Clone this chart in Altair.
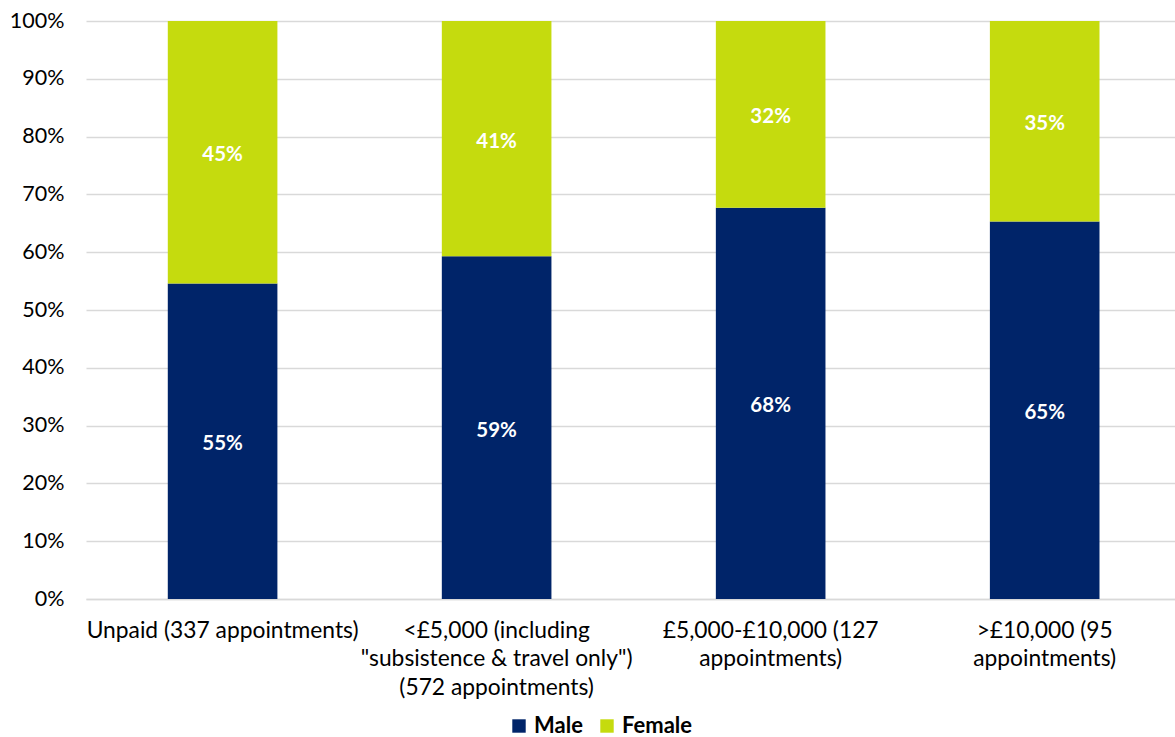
import altair as alt
import pandas as pd

categories = [
    "Unpaid (337 appointments)",
    "<£5,000 (including|\"subsistence & travel only\")|(572 appointments)",
    "£5,000-£10,000 (127|appointments)",
    ">£10,000 (95|appointments)",
]
male = [0.546, 0.593, 0.677, 0.653]
female = [0.454, 0.407, 0.323, 0.347]
series = ["Male", "Female"]
colors = ["#002469", "#C5DB0E"]

rows = []
for i, c in enumerate(categories):
    rows.append({"cat": c, "gender": "Male", "value": male[i], "ord": 0})
    rows.append({"cat": c, "gender": "Female", "value": female[i], "ord": 1})
df = pd.DataFrame(rows)

FONT = "Lato"

base = alt.Chart(df).transform_stack(
    stack="value", as_=["y0", "y1"], groupby=["cat"], sort=[alt.SortField("ord")]
).transform_calculate(mid="(datum.y0 + datum.y1) / 2")

xenc = alt.X(
    "cat:N",
    sort=categories,
    title=None,
    scale=alt.Scale(paddingInner=0.6, paddingOuter=0.287, align=0.52),
    axis=alt.Axis(
        labelAngle=0,
        labelExpr="split(datum.label, '|')",
        labelFont=FONT,
        labelFontSize=22.8,
        labelColor="#000000",
        labelLineHeight=28.5,
        labelPadding=20,
        ticks=False,
        grid=False,
        domainColor="#d9d9d9",
        domainWidth=1.5,
        labelLimit=400,
    ),
)

bars = base.mark_bar().encode(
    x=xenc,
    y=alt.Y(
        "y0:Q",
        scale=alt.Scale(domain=[0, 1]),
        title=None,
        axis=alt.Axis(
            format=".0%",
            values=[i / 10 for i in range(11)],
            labelFont=FONT,
            labelFontSize=21.5,
            labelColor="#000000",
            ticks=False,
            domain=False,
            grid=True,
            gridColor="#d9d9d9",
            gridWidth=1.5,
            labelPadding=22,
        ),
    ),
    y2="y1:Q",
    color=alt.Color(
        "gender:N",
        scale=alt.Scale(domain=series, range=colors),
        legend=alt.Legend(
            title=None,
            orient="none",
            legendX=422,
            legendY=694,
            direction="horizontal",
            symbolType="square",
            symbolSize=180,
            symbolStrokeWidth=0,
            symbolOpacity=1,
            labelFont=FONT,
            labelFontSize=22,
            labelFontWeight="bold",
            labelColor="#000000",
            columnPadding=13,
            labelOffset=4,
        ),
    ),
    order=alt.Order("ord:Q"),
)

labels = base.mark_text(
    color="white", font=FONT, fontSize=20.5, fontWeight="bold", baseline="middle", dy=3
).encode(
    x=alt.X("cat:N", sort=categories),
    y=alt.Y("mid:Q"),
    text=alt.Text("value:Q", format=".0%"),
)

chart = (
    alt.layer(bars, labels)
    .properties(
        width=1089,
        height=578,
        background="white",
        autosize=alt.AutoSizeParams(type="none"),
        padding={"left": 86, "top": 21, "right": 0, "bottom": 138},
    )
    .configure_view(strokeWidth=0, stroke="transparent")
    .configure_axisY(domain=False, ticks=False)
    .configure_axisX(grid=False)
)

chart.save("out.html", embed_options={"renderer": "svg", "actions": False})
